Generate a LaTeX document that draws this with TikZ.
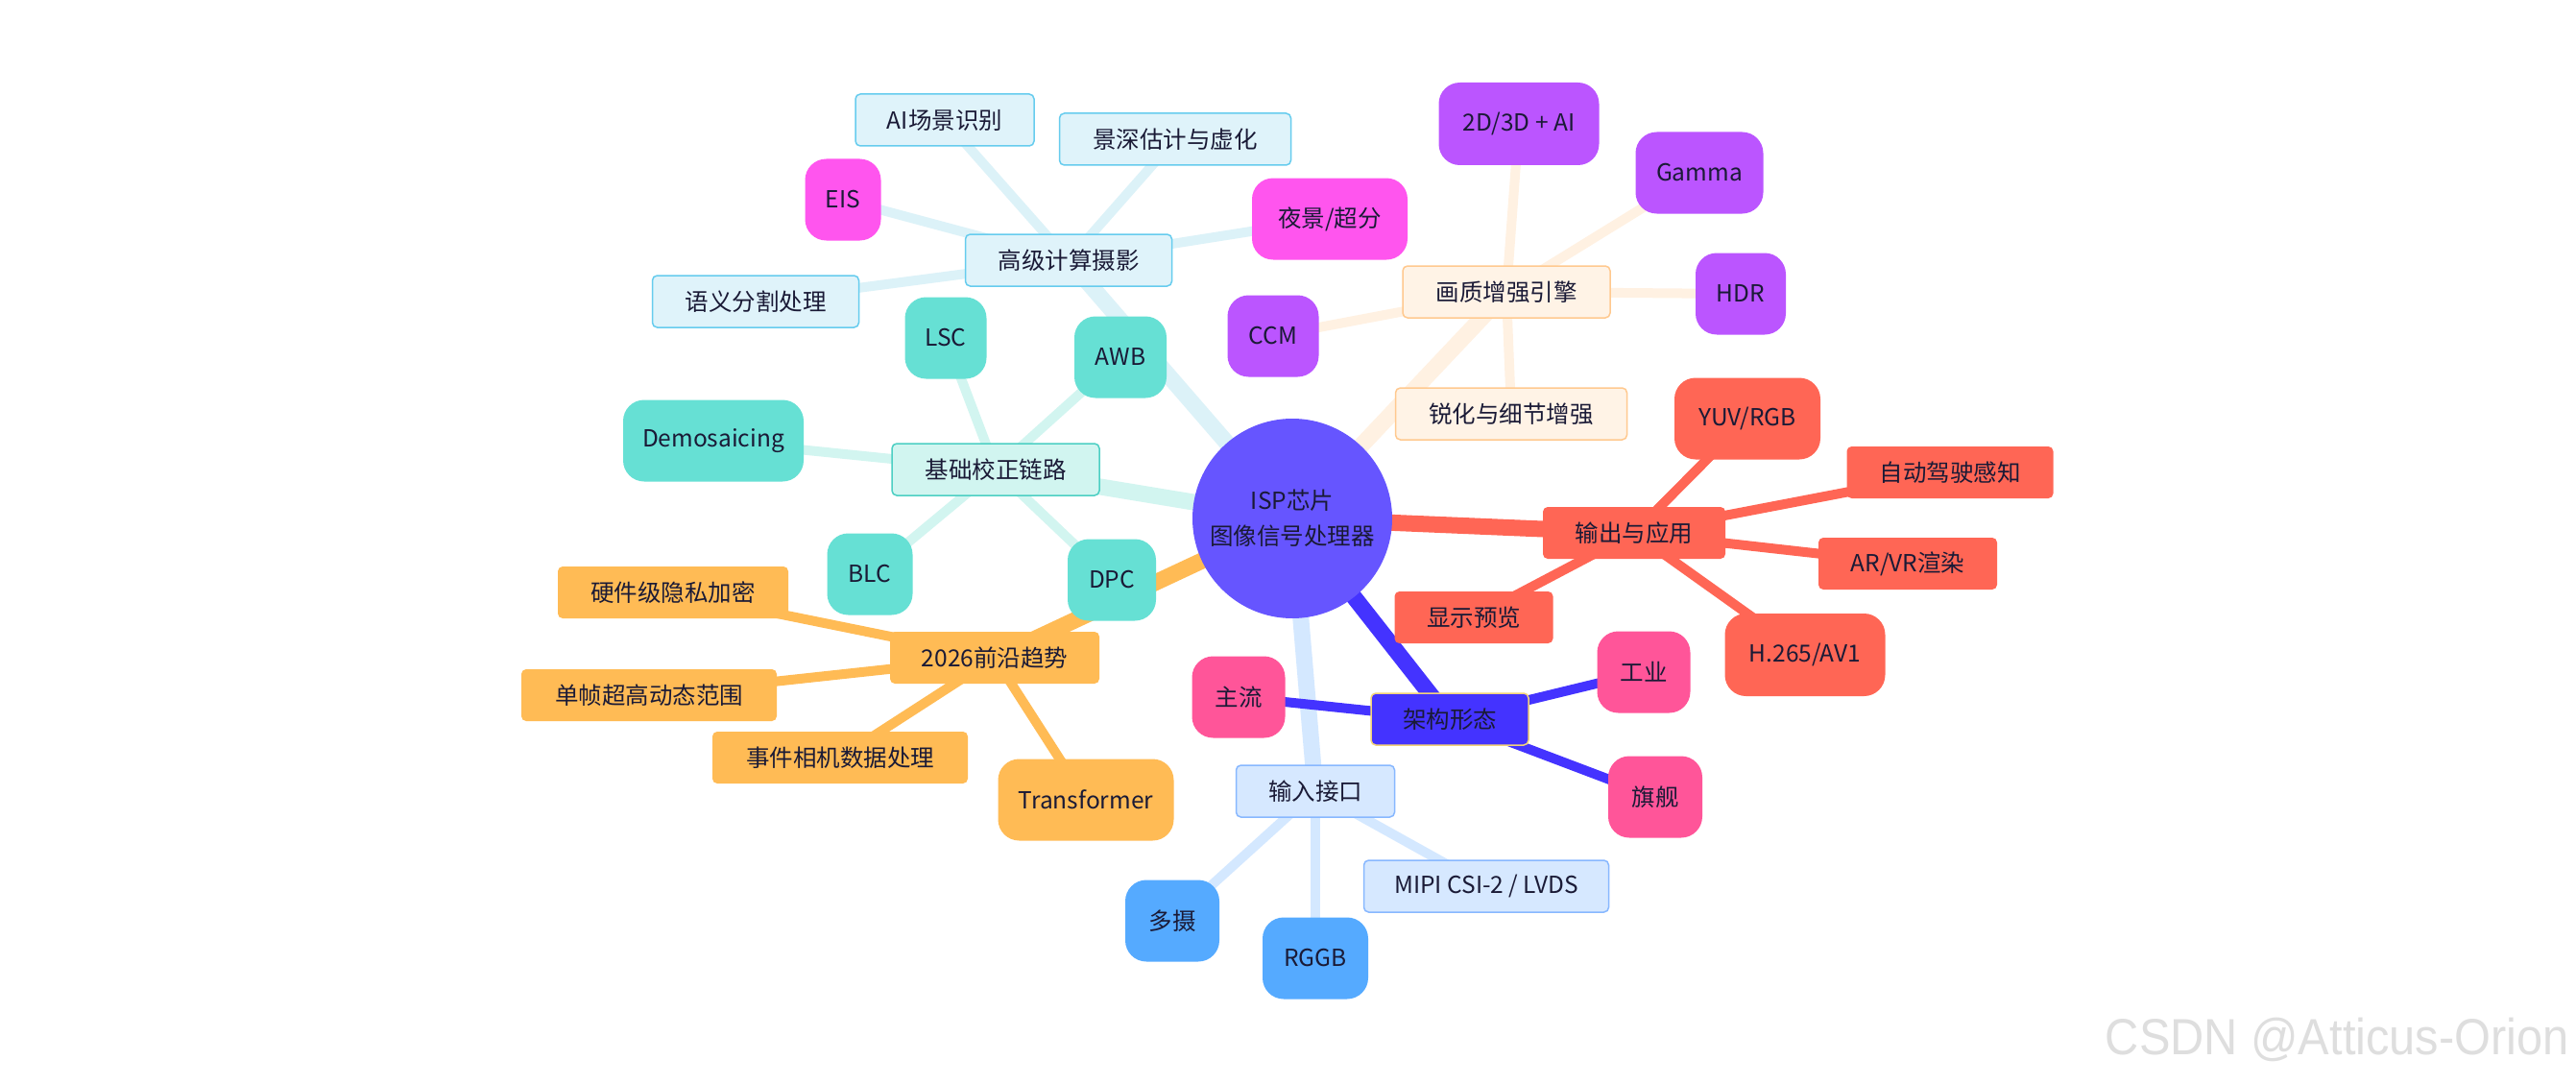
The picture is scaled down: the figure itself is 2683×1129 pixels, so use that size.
\documentclass[tikz,border=0pt]{standalone}
\usepackage{fontspec}
\setmainfont{Noto Sans CJK SC}
\newfontfamily\wmfont{Liberation Sans}
\usetikzlibrary{backgrounds}
\pgfdeclarelayer{canvas}
\pgfsetlayers{canvas,background,main}
\definecolor{txt}{HTML}{1A1A36}
\definecolor{rootC}{HTML}{6655FF}
\definecolor{cyanF}{HTML}{DFF3FA}
\definecolor{cyanD}{HTML}{66CCEE}
\definecolor{cyanE}{HTML}{DCF2F8}
\definecolor{peachF}{HTML}{FFF3E6}
\definecolor{peachD}{HTML}{FFC98F}
\definecolor{peachE}{HTML}{FFF1E2}
\definecolor{tealF}{HTML}{D1F5F0}
\definecolor{tealD}{HTML}{4CCFC3}
\definecolor{tealE}{HTML}{D2F5F0}
\definecolor{teal2}{HTML}{66E0D4}
\definecolor{lblueF}{HTML}{D6E8FF}
\definecolor{lblueD}{HTML}{88B8FF}
\definecolor{lblueE}{HTML}{D4E8FF}
\definecolor{blue2}{HTML}{55AAFF}
\definecolor{magC}{HTML}{FF55EE}
\definecolor{purC}{HTML}{BB55FF}
\definecolor{orgC}{HTML}{FFBB55}
\definecolor{corC}{HTML}{FF6655}
\definecolor{archC}{HTML}{4433FF}
\definecolor{archD}{HTML}{F2D27A}
\definecolor{pinkC}{HTML}{FF5599}
\begin{document}
\begin{tikzpicture}[x=1pt,y=-1pt,
  every node/.style={font=\fontsize{24.5}{37}\selectfont, text=txt, inner sep=0pt, align=center},
  box/.style={rectangle, rounded corners=5pt, minimum height=54pt},
  tall/.style={rectangle, rounded corners=22pt, minimum height=85pt},
  lcyan/.style={box, fill=cyanF, draw=cyanD, line width=1.5pt},
  lpeach/.style={box, fill=peachF, draw=peachD, line width=1.5pt},
  lteal/.style={box, fill=tealF, draw=tealD, line width=1.5pt},
  lblue/.style={box, fill=lblueF, draw=lblueD, line width=1.5pt},
  edgeone/.style={line width=17pt, line cap=butt},
  edgetwo/.style={line width=10pt, line cap=butt}]
\useasboundingbox (0,0) rectangle (2683,1129);
\begin{pgfonlayer}{canvas}
\fill[white] (0,0) rectangle (2683,1129);
\end{pgfonlayer}

% root
\node[circle, fill=rootC, minimum size=208pt] (root) at (1346,540) {ISP芯片\\图像信号处理器};

% branch A
\node[lcyan, minimum width=215pt] (A) at (1113,271) {高级计算摄影};
\node[lcyan, minimum width=186pt] (A1) at (984,125) {AI场景识别};
\node[lcyan, minimum width=241pt] (A2) at (1224,145) {景深估计与虚化};
\node[tall, fill=magC, minimum width=79pt] (A3) at (878,208) {EIS};
\node[tall, fill=magC, minimum width=162pt] (A4) at (1385,228) {夜景/超分};
\node[lcyan, minimum width=215pt] (A5) at (787,314) {语义分割处理};

% branch B
\node[lpeach, minimum width=216pt] (B) at (1569,304) {画质增强引擎};
\node[tall, fill=purC, minimum width=167pt, minimum height=86pt] (B1) at (1582,129) {2D/3D + AI};
\node[tall, fill=purC, minimum width=133pt] (B2) at (1770,180) {Gamma};
\node[tall, fill=purC, minimum width=94pt] (B3) at (1813,306) {HDR};
\node[tall, fill=purC, minimum width=95pt] (B4) at (1326,350) {CCM};
\node[lpeach, minimum width=241pt] (B5) at (1574,431) {锐化与细节增强};

% branch C
\node[lteal, minimum width=216pt] (C) at (1037,489) {基础校正链路};
\node[tall, fill=teal2, minimum width=85pt] (C1) at (985,352) {LSC};
\node[tall, fill=teal2, minimum width=96pt] (C2) at (1167,372) {AWB};
\node[tall, fill=teal2, minimum width=188pt] (C3) at (743,459) {Demosaicing};
\node[tall, fill=teal2, minimum width=89pt] (C4) at (906,598) {BLC};
\node[tall, fill=teal2, minimum width=92pt] (C5) at (1158,604) {DPC};

% branch D
\node[box, fill=orgC, minimum width=218pt] (D) at (1036,685) {2026前沿趋势};
\node[box, fill=orgC, minimum width=240pt] (D1) at (701,617) {硬件级隐私加密};
\node[box, fill=orgC, minimum width=266pt] (D2) at (676,724) {单帧超高动态范围};
\node[box, fill=orgC, minimum width=266pt] (D3) at (875,789) {事件相机数据处理};
\node[tall, fill=orgC, minimum width=183pt] (D4) at (1131,833) {Transformer};

% branch E
\node[box, fill=corC, minimum width=190pt] (E) at (1702,555) {输出与应用};
\node[tall, fill=corC, minimum width=152pt] (E1) at (1820,436) {YUV/RGB};
\node[box, fill=corC, minimum width=215pt] (E2) at (2031,492) {自动驾驶感知};
\node[box, fill=corC, minimum width=186pt] (E3) at (1987,587) {AR/VR渲染};
\node[tall, fill=corC, minimum width=167pt, minimum height=86pt] (E4) at (1880,682) {H.265/AV1};
\node[box, fill=corC, minimum width=165pt] (E5) at (1535,643) {显示预览};

% branch F
\node[box, fill=archC, draw=archD, line width=1.5pt, minimum width=164pt] (F) at (1510,749) {架构形态};
\node[tall, fill=pinkC, minimum width=97pt] (F1) at (1290,726) {主流};
\node[tall, fill=pinkC, minimum width=97pt] (F2) at (1712,700) {工业};
\node[tall, fill=pinkC, minimum width=98pt] (F3) at (1724,830) {旗舰};

% branch G
\node[lblue, minimum width=165pt] (G) at (1370,824) {输入接口};
\node[tall, fill=blue2, minimum width=98pt] (G1) at (1221,959) {多摄};
\node[tall, fill=blue2, minimum width=110pt] (G2) at (1370,998) {RGGB};
\node[lblue, minimum width=255pt] (G3) at (1548,923) {MIPI CSI-2 / LVDS};

% watermark
\node[anchor=east, text=black!13, font=\wmfont\fontsize{53}{60}\selectfont] (wm) at (2676,1083) {\scalebox{0.92}[1]{CSDN @Atticus-Orion}};

\begin{pgfonlayer}{background}
  \draw[edgeone, cyanE] (root.center) -- (A.center);
  \draw[edgeone, peachE] (root.center) -- (B.center);
  \draw[edgeone, tealE] (root.center) -- (C.center);
  \draw[edgeone, orgC] (root.center) -- (D.center);
  \draw[edgeone, corC] (root.center) -- (E.center);
  \draw[edgeone, archC] (root.center) -- (F.center);
  \draw[edgeone, lblueE] (root.center) -- (G.center);
  \foreach \n in {A1,A2,A3,A4,A5} \draw[edgetwo, cyanE] (A.center) -- (\n.center);
  \foreach \n in {B1,B2,B3,B4,B5} \draw[edgetwo, peachE] (B.center) -- (\n.center);
  \foreach \n in {C1,C2,C3,C4,C5} \draw[edgetwo, tealE] (C.center) -- (\n.center);
  \foreach \n in {D1,D2,D3,D4} \draw[edgetwo, orgC] (D.center) -- (\n.center);
  \foreach \n in {E1,E2,E3,E4,E5} \draw[edgetwo, corC] (E.center) -- (\n.center);
  \foreach \n in {G1,G2,G3} \draw[edgetwo, lblueE] (G.center) -- (\n.center);
  \foreach \n in {F1,F2,F3} \draw[edgetwo, archC] (F.center) -- (\n.center);
\end{pgfonlayer}
\end{tikzpicture}
\end{document}
